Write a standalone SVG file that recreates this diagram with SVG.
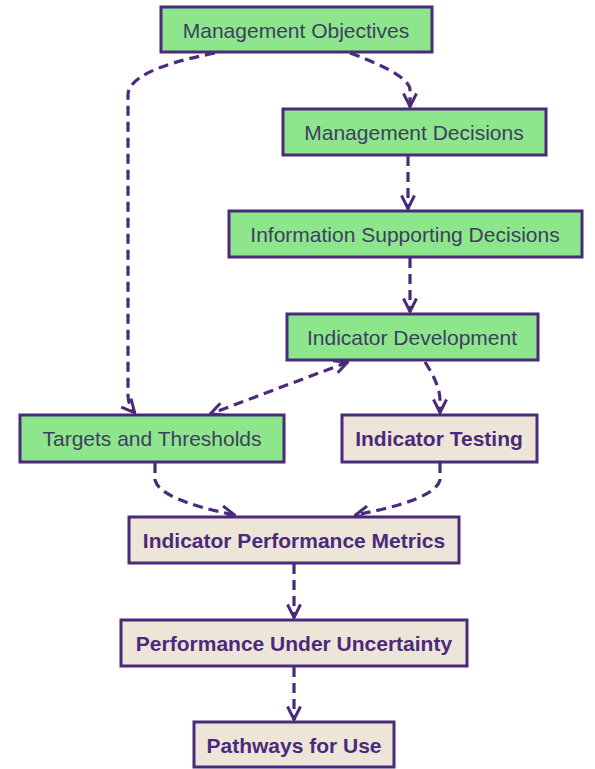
<svg xmlns="http://www.w3.org/2000/svg" width="595" height="769" viewBox="0 0 595 769">
<defs>
<style>
.g rect{fill:#8ee68c;stroke:#4b2a7b;stroke-width:3}
.b rect{fill:#ede6d8;stroke:#4b2a7b;stroke-width:3}
.g text{font-family:"Liberation Sans",Arial,sans-serif;font-size:21px;fill:#3d3f5e;text-anchor:middle}
.b text{font-family:"Liberation Sans",Arial,sans-serif;font-size:21px;font-weight:bold;fill:#4b2a7b;text-anchor:middle}
.c path{fill:none;stroke:#4b2a7b;stroke-width:3.2;stroke-dasharray:10 6}
</style>
<marker id="ah" viewBox="0 0 16 16" refX="15" refY="8" markerWidth="16" markerHeight="16" markerUnits="userSpaceOnUse" orient="auto-start-reverse">
<path d="M1.5,1.5 L14.5,8 L1.5,14.5" fill="none" stroke="#4b2a7b" stroke-width="3"/>
</marker>
</defs>
<rect width="595" height="769" fill="#ffffff"/>
<g class="c">
<path d="M350,53 Q410,75 410,90 L410,107" marker-end="url(#ah)"/>
<path d="M215,53 Q128,70 128,95 L128,395 Q128,405 135,413" marker-end="url(#ah)"/>
<path d="M408,156 L408,209" marker-end="url(#ah)"/>
<path d="M410,258 L410,312" marker-end="url(#ah)"/>
<path d="M348,362 L210,414" marker-start="url(#ah)" marker-end="url(#ah)"/>
<path d="M425,362 Q440,385 440,400 L440,413" marker-end="url(#ah)"/>
<path d="M155,463 L155,480 Q160,500 235,515" marker-end="url(#ah)"/>
<path d="M440,463 L440,480 Q435,500 355,515" marker-end="url(#ah)"/>
<path d="M294,564 L294,618" marker-end="url(#ah)"/>
<path d="M294,667 L294,720" marker-end="url(#ah)"/>
</g>
<g id="n1" class="g"><rect x="161" y="7" width="271" height="45"/><text x="296" y="38">Management Objectives</text></g>
<g id="n2" class="g"><rect x="283" y="109" width="263" height="46"/><text x="414" y="140">Management Decisions</text></g>
<g id="n3" class="g"><rect x="229" y="211" width="353" height="46"/><text x="405" y="242">Information Supporting Decisions</text></g>
<g id="n4" class="g"><rect x="287" y="314" width="251" height="46"/><text x="412" y="345">Indicator Development</text></g>
<g id="n5" class="g"><rect x="20" y="415" width="264" height="47"/><text x="152" y="446">Targets and Thresholds</text></g>
<g id="n6" class="b"><rect x="342" y="415" width="195" height="47"/><text x="439" y="446">Indicator Testing</text></g>
<g id="n7" class="b"><rect x="129" y="517" width="330" height="46"/><text x="294" y="548">Indicator Performance Metrics</text></g>
<g id="n8" class="b"><rect x="121" y="620" width="346" height="46"/><text x="294" y="651">Performance Under Uncertainty</text></g>
<g id="n9" class="b"><rect x="194" y="722" width="200" height="45"/><text x="294" y="753">Pathways for Use</text></g>
</svg>
